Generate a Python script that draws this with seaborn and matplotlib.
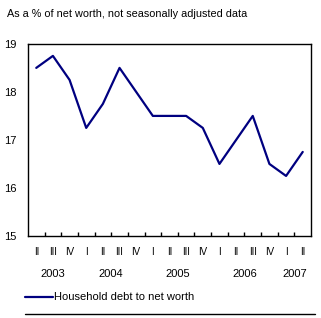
import numpy as np
import pandas as pd
import seaborn as sns
import matplotlib.pyplot as plt
from matplotlib.lines import Line2D

quarters = ['II', 'III', 'IV', 'I', 'II', 'III', 'IV', 'I', 'II', 'III', 'IV',
            'I', 'II', 'III', 'IV', 'I', 'II']
years = ['2003', '2004', '2005', '2006', '2007']
year_centres = [1.0, 4.5, 8.5, 12.5, 15.5]
debt_ratio = [18.5, 18.75, 18.25, 17.25, 17.75, 18.5, 18.0, 17.5, 17.5, 17.5,
              17.25, 16.5, 17.0, 17.5, 16.5, 16.25, 16.75]

sns.set_style("white")
plt.rcParams['font.family'] = ['Liberation Sans', 'DejaVu Sans']
plt.rcParams['font.size'] = 7.5
plt.rcParams['text.color'] = 'black'
plt.rcParams['xtick.color'] = 'black'
plt.rcParams['ytick.color'] = 'black'
plt.rcParams['xtick.labelcolor'] = 'black'
plt.rcParams['ytick.labelcolor'] = 'black'

df = pd.DataFrame({"pos": np.arange(len(debt_ratio)) + 0.5, "value": debt_ratio})

fig = plt.figure(figsize=(3.21, 3.18), dpi=100)
ax = fig.add_axes([0.087, 0.258, 0.882, 0.604])
sns.lineplot(data=df, x="pos", y="value", color="#000080", linewidth=1.6, ax=ax)

ax.set_xlim(0, len(debt_ratio))
ax.set_ylim(15, 19)
ax.set_yticks([15, 16, 17, 18, 19])
ax.set(xlabel=None, ylabel=None)
for s in ax.spines.values():
    s.set_color("black")
    s.set_linewidth(1)

# boundary ticks pointing inward, labels at the centres
ax.set_xticks(np.arange(1, len(debt_ratio)))
ax.set_xticklabels([])
ax.tick_params(axis='x', direction='in', length=3, width=1, color='black', bottom=True)
ax.tick_params(axis='y', length=0, pad=8, labelsize=8)
for i, q in enumerate(quarters):
    ax.text(i + 0.5, -0.06, q, transform=ax.get_xaxis_transform(),
            ha='center', va='top', fontsize=7)
for c, y in zip(year_centres, years):
    ax.text(c + 0.5, -0.17, y, transform=ax.get_xaxis_transform(),
            ha='center', va='top', fontsize=8)

fig.text(0.022, 0.955, "As a % of net worth, not seasonally adjusted data",
         ha='left', va='center', fontsize=7.8)

# legend below the plot
ly = 1 - 297 / 318
fig.add_artist(Line2D([0.078, 0.165], [ly, ly], transform=fig.transFigure,
                      color="#000080", linewidth=1.6))
fig.text(0.168, ly, "Household debt to net worth", ha='left', va='center', fontsize=8)
fig.add_artist(Line2D([0.078, 0.982], [1 - 314 / 318, 1 - 314 / 318],
                      transform=fig.transFigure, color='black', linewidth=1))

plt.savefig("out.png", dpi=100)
